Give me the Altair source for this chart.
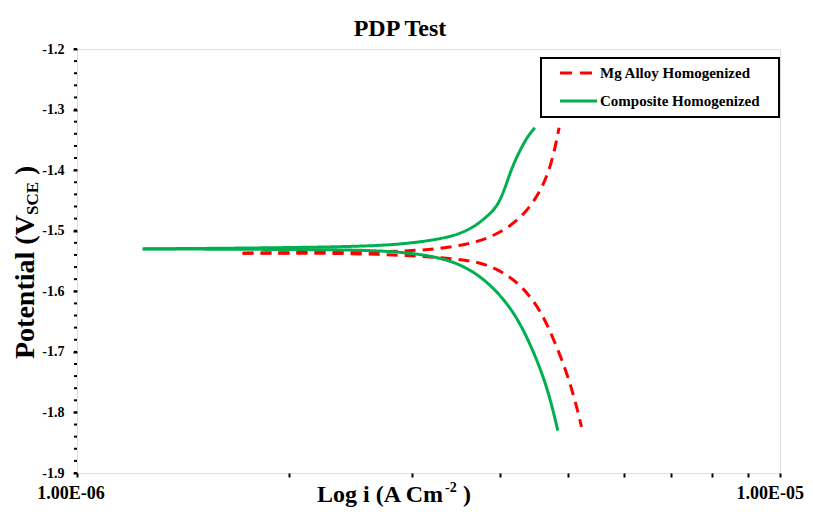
import altair as alt
import pandas as pd

chart_title = "PDP Test"
series_names = ["Mg Alloy Homogenized", "Composite Homogenized"]
series_colors = ["#FF0000", "#00B050"]
series_dash = [[11, 7], [1, 0]]

# Mg alloy: cathodic branch (from the left end toward high current) and anodic branch
mg_cath_current = [1.72e-6, 2.07e-6, 2.70e-6, 3.36e-6, 3.74e-6, 4.04e-6, 4.31e-6, 4.56e-6, 4.75e-6, 4.98e-6, 5.14e-6, 5.22e-6]
mg_cath_potential = [-1.537, -1.537, -1.538, -1.545, -1.551, -1.568, -1.593, -1.631, -1.675, -1.735, -1.791, -1.824]
mg_anod_current = [1.72e-6, 2.07e-6, 2.70e-6, 3.18e-6, 3.59e-6, 3.91e-6, 4.27e-6, 4.56e-6, 4.74e-6, 4.85e-6]
mg_anod_potential = [-1.537, -1.536, -1.535, -1.532, -1.523, -1.510, -1.482, -1.438, -1.388, -1.330]

# Composite
comp_cath_current = [1.24e-6, 2.07e-6, 2.70e-6, 3.18e-6, 3.54e-6, 3.86e-6, 4.17e-6, 4.41e-6, 4.67e-6, 4.83e-6]
comp_cath_potential = [-1.530, -1.531, -1.532, -1.540, -1.556, -1.586, -1.631, -1.685, -1.758, -1.830]
comp_anod_current = [1.24e-6, 2.07e-6, 2.70e-6, 3.01e-6, 3.36e-6, 3.62e-6, 3.83e-6, 3.94e-6, 4.00e-6, 4.07e-6,
                     4.13e-6, 4.20e-6, 4.27e-6, 4.37e-6, 4.48e-6]
comp_anod_potential = [-1.530, -1.528, -1.525, -1.520, -1.512, -1.499, -1.477, -1.462, -1.449, -1.427,
                       -1.405, -1.384, -1.367, -1.345, -1.330]

x_ticks = [1e-6, 2e-6, 3e-6, 4e-6, 5e-6, 6e-6, 7e-6, 8e-6, 9e-6, 1e-5]
x_label_values = [1e-6, 1e-5]
x_label_texts = ["1.00E-06", "1.00E-05"]
y_ticks = [-1.9, -1.8, -1.7, -1.6, -1.5, -1.4, -1.3, -1.2]
y_minor_ticks = [round(-1.9 + 0.02 * k, 2) for k in range(36)]

FONT = "Liberation Serif"

rows = []
def add(name, branch, cur, pot):
    for i, (c, p) in enumerate(zip(cur, pot)):
        rows.append({"series": name, "branch": name + " " + branch, "idx": i, "current": c, "potential": p})

add(series_names[0], "cathodic", mg_cath_current, mg_cath_potential)
add(series_names[0], "anodic", mg_anod_current, mg_anod_potential)
add(series_names[1], "cathodic", comp_cath_current, comp_cath_potential)
add(series_names[1], "anodic", comp_anod_current, comp_anod_potential)
df = pd.DataFrame(rows)

x_scale = alt.Scale(type="log", domain=[1e-6, 1e-5], nice=False)
x_enc = alt.X(
    "current:Q",
    scale=x_scale,
    axis=alt.Axis(values=x_ticks, labels=False, title=None, grid=False, domain=False,
                  tickColor="black", tickSize=4, tickWidth=2),
)
y_enc = alt.Y(
    "potential:Q",
    scale=alt.Scale(domain=[-1.9, -1.2], nice=False, zero=False),
    axis=alt.Axis(values=y_ticks, labelExpr="'-' + format(abs(datum.value), '.1f')", title=None,
                  grid=False, domain=False, tickColor="black", tickSize=4, tickWidth=2,
                  labelFont=FONT, labelFontSize=14, labelFontWeight="bold", labelColor="black",
                  labelPadding=9, labelFlush=False),
)

lines = alt.Chart(df).mark_line(strokeWidth=3, interpolate="basis").encode(
    x=x_enc,
    y=y_enc,
    color=alt.Color("series:N", scale=alt.Scale(domain=series_names, range=series_colors), legend=None),
    strokeDash=alt.StrokeDash("series:N", scale=alt.Scale(domain=series_names, range=series_dash), legend=None),
    detail="branch:N",
    order="idx:Q",
)

minor = alt.Chart(pd.DataFrame({"potential": y_minor_ticks})).mark_rule(
    color="black", strokeWidth=2
).encode(y=alt.Y("potential:Q"), x=alt.value(-3), x2=alt.value(0))

# x tick labels (first centred on its tick, last kept inside the page)
xl1 = alt.Chart(pd.DataFrame({"current": [x_label_values[0]], "t": [x_label_texts[0]]})).mark_text(
    font=FONT, fontSize=18, fontWeight="bold", align="center", baseline="top", color="black", dx=-6
).encode(x=alt.X("current:Q"), y=alt.value(436), text="t:N")
xl2 = alt.Chart(pd.DataFrame({"current": [x_label_values[1]], "t": [x_label_texts[1]]})).mark_text(
    font=FONT, fontSize=18, fontWeight="bold", align="right", baseline="top", color="black", dx=24
).encode(x=alt.X("current:Q"), y=alt.value(436), text="t:N")

# legend
leg_box = alt.Chart(pd.DataFrame({"k": [0]})).mark_rect(
    fill="white", stroke="black", strokeWidth=2
).encode(x=alt.value(464), x2=alt.value(702), y=alt.value(9), y2=alt.value(68))

leg_red = alt.Chart(pd.DataFrame({"series": [series_names[0]]})).mark_rule(
    color=series_colors[0], strokeWidth=3, strokeDash=[12, 8]
).encode(x=alt.value(483), x2=alt.value(516), y=alt.value(24))
leg_green = alt.Chart(pd.DataFrame({"series": [series_names[1]]})).mark_rule(
    color=series_colors[1], strokeWidth=3
).encode(x=alt.value(483), x2=alt.value(520), y=alt.value(52))
leg_t1 = alt.Chart(pd.DataFrame({"series": [series_names[0]]})).mark_text(
    font=FONT, fontSize=15, fontWeight="bold", align="left", baseline="middle", color="black"
).encode(x=alt.value(523), y=alt.value(24), text="series:N")
leg_t2 = alt.Chart(pd.DataFrame({"series": [series_names[1]]})).mark_text(
    font=FONT, fontSize=15, fontWeight="bold", align="left", baseline="middle", color="black"
).encode(x=alt.value(523), y=alt.value(52), text="series:N")

def txt(s, x, y, size, angle=0, align="left"):
    kw = dict(font=FONT, fontSize=size, fontWeight="bold", align=align, baseline="alphabetic", color="black")
    if angle:
        kw["angle"] = angle
    return alt.Chart(pd.DataFrame({"t": [s]})).mark_text(**kw).encode(
        x=alt.value(x), y=alt.value(y), text="t:N")

title = txt(chart_title, 323, -13, 24, align="center")
xt1 = txt("Log i (A Cm", 240, 453, 24)
xt2 = txt("-2", 368, 443, 14)
xt3 = txt(")", 386, 453, 24)
yt1 = txt("Potential (V", -43, 310, 28, angle=270)
yt2 = txt("SCE", -39, 166, 17, angle=270)
yt3 = txt(")", -43, 126, 28, angle=270)

chart = alt.layer(
    lines, minor, xl1, xl2, leg_box, leg_red, leg_green, leg_t1, leg_t2,
    title, xt1, xt2, xt3, yt1, yt2, yt3
).properties(
    width=703, height=424,
    autosize={"type": "none"},
    padding={"left": 69, "top": 41, "right": 25, "bottom": 35},
).configure_view(
    stroke="black", strokeWidth=3
).configure(background="white")

chart.save("out.html", embed_options={"renderer": "svg", "actions": False})
